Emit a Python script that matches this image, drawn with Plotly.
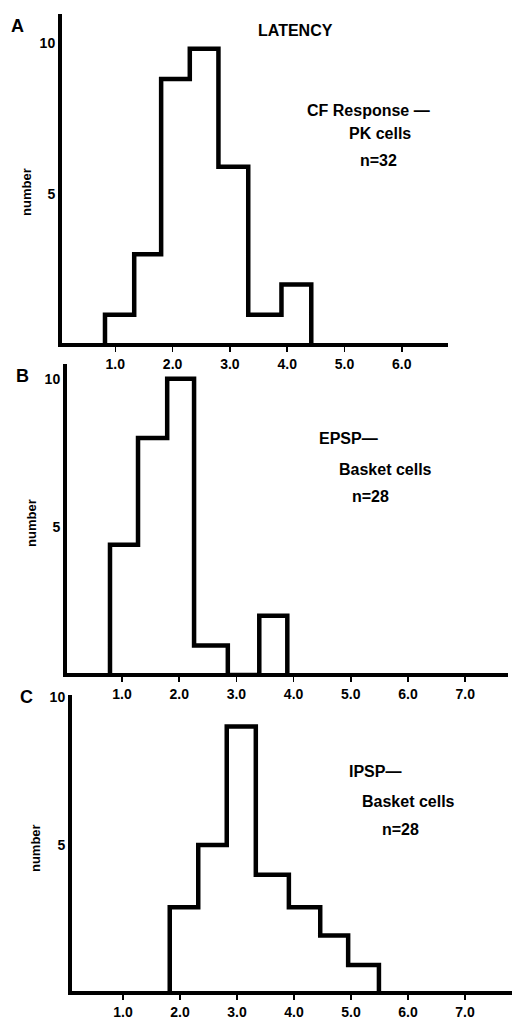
import plotly.graph_objects as go

W, H = 512, 1021

# ---- data ----
a_edges = [0.82, 1.33, 1.80, 2.30, 2.80, 3.32, 3.90, 4.42]
a_counts = [1, 3, 8.8, 9.8, 5.9, 1, 2]

b_edges = [0.79, 1.28, 1.79, 2.26, 2.85, 3.40, 3.89]
b_counts = [4.4, 8, 10, 1, 0, 2]

c_edges = [1.82, 2.32, 2.82, 3.33, 3.91, 4.46, 4.95, 5.49]
c_counts = [2.9, 5, 9, 4, 2.9, 1.95, 0.95]

a_xticks = [1, 2, 3, 4, 5, 6]
a_xlabels = ["1.0", "2.0", "3.0", "4.0", "5.0", "6.0"]
bc_xticks = [1, 2, 3, 4, 5, 6, 7]
bc_xlabels = ["1.0", "2.0", "3.0", "4.0", "5.0", "6.0", "7.0"]
y_ticks = [5, 10]
y_labels = ["5", "10"]

panel_letters = ["A", "B", "C"]
panel_texts = [
    ["CF Response —", "PK cells", "n=32"],
    ["EPSP—", "Basket cells", "n=28"],
    ["IPSP—", "Basket cells", "n=28"],
]

FONT = "Liberation Sans, Arial, sans-serif"
LW = 4

# panel geometry in page pixels:
# ax/ay = centre of the y / x axis lines, top/right = ends of the axis lines,
# x0 = pixel of latency 0, sx / sy = pixels per unit
panels = [
    dict(ax=60, ay=341, top=8, right=448, x0=58, sx=57.3, sy=30.4,
         edges=a_edges, counts=a_counts, xt=a_xticks, xl=a_xlabels),
    dict(ax=65, ay=673, top=360, right=508, x0=64.8, sx=57.2, sy=29.8,
         edges=b_edges, counts=b_counts, xt=bc_xticks, xl=bc_xlabels),
    dict(ax=70, ay=993, top=693, right=512, x0=66, sx=57.0, sy=29.8,
         edges=c_edges, counts=c_counts, xt=bc_xticks, xl=bc_xlabels),
]

fig = go.Figure()
layout = dict(
    width=W, height=H,
    margin=dict(l=0, r=0, t=0, b=0),
    paper_bgcolor="white", plot_bgcolor="white",
    showlegend=False,
    font=dict(family=FONT, color="black"),
)

for i, p in enumerate(panels):
    n = len(p["counts"])
    xs = [p["edges"][0]] + p["edges"][:n] + [p["edges"][n]]
    ys = [0] + list(p["counts"]) + [0]
    sfx = "" if i == 0 else str(i + 1)
    left = p["ax"] + LW / 2
    bottom = p["ay"] - LW / 2
    xr = [(left - p["x0"]) / p["sx"], (p["right"] - p["x0"]) / p["sx"]]
    yr = [(p["ay"] - bottom) / p["sy"], (p["ay"] - p["top"]) / p["sy"]]
    fig.add_trace(go.Scatter(
        x=xs, y=ys, mode="lines", line=dict(color="black", width=4.5, shape="hv"),
        xaxis="x" + sfx, yaxis="y" + sfx, hoverinfo="skip",
    ))
    layout["xaxis" + sfx] = dict(
        domain=[left / W, p["right"] / W], range=xr, anchor="y" + sfx,
        showline=True, linecolor="black", linewidth=LW, showgrid=False, zeroline=False,
        tickmode="array", tickvals=p["xt"], ticktext=["<b>%s</b>" % t for t in p["xl"]],
        ticks="outside", ticklen=5, tickwidth=1.5, tickcolor="black",
        tickfont=dict(family=FONT, size=14, color="black"),
        fixedrange=True,
    )
    layout["yaxis" + sfx] = dict(
        domain=[1 - bottom / H, 1 - p["top"] / H], range=yr, anchor="x" + sfx,
        showline=True, linecolor="black", linewidth=LW, showgrid=False, zeroline=False,
        tickmode="array", tickvals=y_ticks, ticktext=["<b>%s</b>" % t for t in y_labels],
        ticks="", tickfont=dict(family=FONT, size=14, color="black"),
        fixedrange=True,
    )

fig.update_layout(**layout)

def ann(text, px, py, size=16, xanchor="left", angle=0):
    fig.add_annotation(
        text="<b>%s</b>" % text, x=px / W, y=1 - py / H, xref="paper", yref="paper",
        xanchor=xanchor, yanchor="middle", showarrow=False, textangle=angle,
        font=dict(family=FONT, size=size, color="black"),
    )

# panel letters
ann(panel_letters[0], 17.5, 20, size=18, xanchor="center")
ann(panel_letters[1], 22, 372, size=18, xanchor="center")
ann(panel_letters[2], 26, 695, size=18, xanchor="center")

# y titles
ann("number", 27, 187, size=13, xanchor="center", angle=-90)
ann("number", 32, 520, size=13, xanchor="center", angle=-90)
ann("number", 35, 847, size=13, xanchor="center", angle=-90)

# title
ann("LATENCY", 295, 25, size=16, xanchor="center")

# panel labels
ann(panel_texts[0][0], 305, 105)
ann(panel_texts[0][1], 347, 128)
ann(panel_texts[0][2], 358, 155)
ann(panel_texts[1][0], 317, 435)
ann(panel_texts[1][1], 337, 466)
ann(panel_texts[1][2], 350, 493)
ann(panel_texts[2][0], 347, 770)
ann(panel_texts[2][1], 360, 800)
ann(panel_texts[2][2], 380, 828)

fig.write_html(
    "out.html",
    config={"displayModeBar": False, "staticPlot": True},
    post_script="document.body.style.margin='0';document.body.style.overflow='hidden';",
)
